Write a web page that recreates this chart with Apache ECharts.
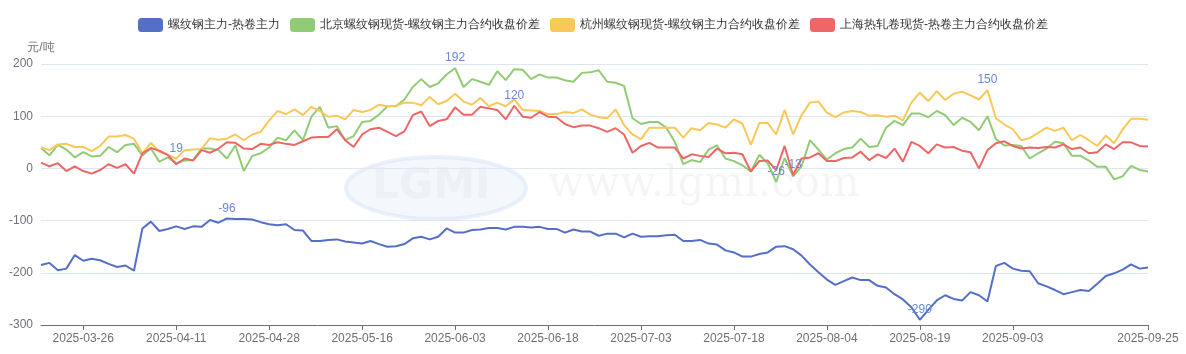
<!DOCTYPE html>
<html>
<head>
<meta charset="utf-8">
<style>html,body{margin:0;padding:0;background:#fff;}#c{width:1186px;height:354px;}</style>
<script src="https://cdn.jsdelivr.net/npm/echarts@6/dist/echarts.min.js"></script>
</head>
<body>
<div id="c"></div>
<script>
const dates = [
'2025-03-19','2025-03-20','2025-03-21','2025-03-24','2025-03-25','2025-03-26','2025-03-27','2025-03-28','2025-03-31',
'2025-04-01','2025-04-02','2025-04-03','2025-04-07','2025-04-08','2025-04-09','2025-04-10','2025-04-11','2025-04-14','2025-04-15','2025-04-16','2025-04-17','2025-04-18','2025-04-21','2025-04-22','2025-04-23','2025-04-24','2025-04-25','2025-04-28','2025-04-29','2025-04-30',
'2025-05-06','2025-05-07','2025-05-08','2025-05-09','2025-05-12','2025-05-13','2025-05-14','2025-05-15','2025-05-16','2025-05-19','2025-05-20','2025-05-21','2025-05-22','2025-05-23','2025-05-26','2025-05-27','2025-05-28','2025-05-29','2025-05-30',
'2025-06-03','2025-06-04','2025-06-05','2025-06-06','2025-06-09','2025-06-10','2025-06-11','2025-06-12','2025-06-13','2025-06-16','2025-06-17','2025-06-18','2025-06-19','2025-06-20','2025-06-23','2025-06-24','2025-06-25','2025-06-26','2025-06-27','2025-06-30',
'2025-07-01','2025-07-02','2025-07-03','2025-07-04','2025-07-07','2025-07-08','2025-07-09','2025-07-10','2025-07-11','2025-07-14','2025-07-15','2025-07-16','2025-07-17','2025-07-18','2025-07-21','2025-07-22','2025-07-23','2025-07-24','2025-07-25','2025-07-28','2025-07-29','2025-07-30','2025-07-31',
'2025-08-01','2025-08-04','2025-08-05','2025-08-06','2025-08-07','2025-08-08','2025-08-11','2025-08-12','2025-08-13','2025-08-14','2025-08-15','2025-08-18','2025-08-19','2025-08-20','2025-08-21','2025-08-22','2025-08-25','2025-08-26','2025-08-27','2025-08-28','2025-08-29',
'2025-09-01','2025-09-02','2025-09-03','2025-09-04','2025-09-05','2025-09-08','2025-09-09','2025-09-10','2025-09-11','2025-09-12','2025-09-15','2025-09-16','2025-09-17','2025-09-18','2025-09-19','2025-09-22','2025-09-23','2025-09-24','2025-09-25'
];
const seriesNames = ['螺纹钢主力-热卷主力','北京螺纹钢现货-螺纹钢主力合约收盘价差','杭州螺纹钢现货-螺纹钢主力合约收盘价差','上海热轧卷现货-热卷主力合约收盘价差'];
const rbHc = [-185,-181,-195,-192,-166,-177,-173,-176,-183,-189,-186,-196,-115,-102,-120,-116,-111,-116,-111,-112,-99,-104,-96,-97,-97,-98,-103,-107,-109,-107,-118,-119,-139,-139,-137,-136,-140,-142,-144,-139,-145,-150,-149,-145,-134,-131,-136,-131,-115,-123,-123,-118,-117,-114,-114,-117,-112,-112,-113,-112,-116,-116,-123,-117,-121,-121,-129,-125,-125,-132,-125,-131,-130,-130,-128,-127,-139,-139,-137,-144,-146,-157,-161,-169,-169,-164,-161,-150,-149,-155,-167,-184,-199,-213,-223,-216,-209,-214,-214,-225,-228,-241,-251,-266,-290,-271,-253,-243,-250,-253,-237,-243,-255,-187,-181,-192,-196,-197,-220,-226,-233,-241,-237,-233,-235,-221,-206,-201,-194,-184,-192,-190];
const beijing = [39,25,45,36,21,31,23,24,41,31,45,47,25,38,13,21,10,15,16,38,38,35,19,44,-5,24,29,40,59,54,73,54,99,118,78,81,54,62,89,91,103,119,119,132,156,171,156,163,180,192,156,171,166,160,186,169,190,189,171,180,174,174,169,166,183,184,188,166,164,158,96,85,89,89,78,51,8,16,12,36,44,19,14,6,-6,26,10,-26,20,-15,4,54,36,17,29,37,40,57,41,43,78,91,83,105,105,98,110,102,83,97,89,73,100,56,44,45,43,19,29,38,51,48,24,24,15,3,3,-21,-15,5,-3,-6];
const hangzhou = [40,35,46,47,41,41,33,43,61,61,64,57,29,49,32,26,19,35,36,37,58,55,57,65,54,65,70,92,110,104,113,102,118,110,99,101,94,112,108,112,122,119,120,126,126,121,137,123,129,143,128,122,135,119,126,119,132,112,111,110,104,104,108,106,113,103,98,96,113,83,65,56,78,78,78,78,59,77,73,87,84,78,94,86,45,87,87,65,112,65,102,126,128,107,98,107,110,108,101,102,99,101,92,126,145,129,148,131,143,147,140,132,150,96,84,75,54,58,68,78,72,78,54,64,54,43,63,48,75,95,95,93];
const shanghai = [11,4,10,-5,4,-5,-10,-3,8,1,8,-10,29,39,34,26,8,19,15,35,30,38,50,49,38,37,47,45,50,47,45,52,59,60,60,75,54,41,65,75,78,70,62,71,102,109,81,91,94,117,103,103,118,115,112,94,120,99,97,108,99,98,85,79,82,82,77,70,77,65,30,43,49,40,40,40,19,27,24,22,38,29,30,27,-6,14,15,-3,43,-13,19,21,29,14,14,20,21,32,16,27,20,38,13,51,43,29,46,40,41,34,31,0,35,48,52,43,38,40,39,41,40,46,37,40,29,31,46,37,50,50,43,42];
const yTicks = {min: -300, max: 200, interval: 100};

const colors = ['#5470c6','#91cc75','#fac858','#ee6666'];
const values = [rbHc, beijing, hangzhou, shanghai];
const lastIdx = dates.length - 1;
const showIdx = (i) => (i - 5) % 11 === 0 && i >= 5 && i <= 115 || i === lastIdx;

const chart = echarts.init(document.getElementById('c'));
chart.setOption({
  animation: false,
  color: colors,
  legend: {
    top: 13, left: 'center', itemWidth: 25, itemHeight: 14, itemGap: 10, icon: 'roundRect',
    textStyle: {fontSize: 12, color: '#333'},
    data: seriesNames
  },
  grid: {left: 41, right: 38, top: 64, bottom: 29},
  graphic: [
    {type: 'ellipse', z: -10, shape: {cx: 436, cy: 188, rx: 90, ry: 31},
     style: {fill: 'rgba(220,232,248,0.3)', stroke: 'rgba(205,220,242,0.4)', lineWidth: 4}},
    {type: 'text', z: -9, left: 372, top: 166,
     style: {text: 'LGMI', fontSize: 42, fontWeight: 'bold', fontFamily: 'DejaVu Sans', fill: 'rgba(200,200,200,0.16)'}},
    {type: 'text', z: -9, left: 548, top: 164,
     style: {text: 'www.lgmi.com', fontSize: 42, fontFamily: 'DejaVu Serif', fill: 'rgba(0,0,0,0.04)'}}
  ],
  xAxis: {
    type: 'category', data: dates, boundaryGap: false,
    axisLine: {onZero: false, lineStyle: {color: '#6E7079'}},
    axisTick: {interval: (i) => showIdx(i)},
    axisLabel: {interval: (i) => showIdx(i), color: '#6E7079', fontSize: 12, showMaxLabel: true}
  },
  yAxis: {
    type: 'value', min: yTicks.min, max: yTicks.max, interval: yTicks.interval,
    name: '元/吨', nameGap: 10, nameTextStyle: {color: '#6E7079', fontSize: 12},
    axisLabel: {color: '#6E7079', fontSize: 12},
    splitLine: {lineStyle: {color: '#E0E6F1'}}
  },
  series: seriesNames.map((n, k) => ({
    name: n, type: 'line', data: values[k], showSymbol: false, symbol: 'none',
    lineStyle: {width: 2, color: colors[k]}, itemStyle: {color: colors[k]},
    markPoint: {
      symbol: 'circle', symbolSize: 0,
      label: {show: true, position: 'top', color: '#6a88d8', fontSize: 12, distance: 4},
      data: [{type: 'max'}, {type: 'min'}]
    }
  }))
});
</script>
</body>
</html>
